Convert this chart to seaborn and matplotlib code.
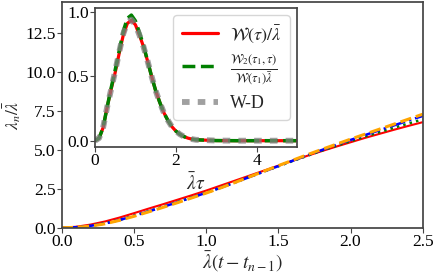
import matplotlib
matplotlib.use("Agg")
import matplotlib.pyplot as plt
import seaborn as sns
import numpy as np
import pandas as pd

# ---- main panel data ----
t_main = [0.0, 0.1, 0.2, 0.3, 0.4, 0.5, 0.6, 0.7, 0.8, 0.9, 1.0, 1.1, 1.2,
          1.3, 1.4, 1.5, 1.6, 1.7, 1.8, 1.9, 2.0, 2.1, 2.2, 2.3, 2.4, 2.5]
red_main = [0.0, 0.06, 0.2, 0.4, 0.65, 0.93, 1.22, 1.5, 1.79, 2.08, 2.38, 2.7, 3.02,
            3.34, 3.66, 3.98, 4.3, 4.61, 4.91, 5.2, 5.48, 5.76, 6.02, 6.28, 6.53, 6.77]
green_main = [0.0, 0.03, 0.12, 0.28, 0.5, 0.77, 1.05, 1.34, 1.64, 1.94, 2.25, 2.57, 2.91,
              3.26, 3.6, 3.94, 4.28, 4.61, 4.94, 5.25, 5.55, 5.85, 6.13, 6.41, 6.68, 6.95]
blue_main = [0.0, 0.03, 0.12, 0.27, 0.49, 0.76, 1.04, 1.33, 1.63, 1.93, 2.24, 2.56, 2.9,
             3.25, 3.6, 3.95, 4.3, 4.64, 4.98, 5.31, 5.63, 5.94, 6.25, 6.56, 6.87, 7.17]
orange_main = [0.0, 0.02, 0.1, 0.25, 0.47, 0.73, 1.01, 1.3, 1.6, 1.91, 2.22, 2.55, 2.9,
               3.26, 3.62, 3.98, 4.33, 4.68, 5.02, 5.35, 5.68, 6.0, 6.32, 6.64, 6.96, 7.28]

# ---- inset data ----
tau = [0.0, 0.1, 0.2, 0.3, 0.4, 0.5, 0.6, 0.7, 0.8, 0.9, 1.0, 1.1, 1.2, 1.3, 1.4,
       1.5, 1.6, 1.7, 1.8, 1.9, 2.0, 2.1, 2.2, 2.3, 2.4, 2.5, 3.0, 3.5, 4.0, 4.5, 5.0]
w_red = [0.0, 0.02, 0.1, 0.26, 0.4, 0.53, 0.68, 0.82, 0.91, 0.935, 0.9, 0.82, 0.73, 0.62, 0.5,
         0.39, 0.3, 0.22, 0.16, 0.11, 0.075, 0.05, 0.032, 0.02, 0.012, 0.007, 0.001, 0.0, 0.0, 0.0, 0.0]
w_green = [0.0, 0.02, 0.1, 0.26, 0.41, 0.55, 0.7, 0.85, 0.95, 0.975, 0.93, 0.84, 0.74, 0.62, 0.5,
           0.39, 0.3, 0.22, 0.16, 0.11, 0.075, 0.05, 0.032, 0.02, 0.012, 0.007, 0.001, 0.0, 0.0, 0.0, 0.0]
w_gray = [0.0, 0.02, 0.1, 0.26, 0.4, 0.54, 0.69, 0.83, 0.92, 0.94, 0.9, 0.82, 0.73, 0.62, 0.5,
          0.39, 0.3, 0.22, 0.16, 0.11, 0.075, 0.05, 0.032, 0.02, 0.012, 0.007, 0.001, 0.0, 0.0, 0.0, 0.0]

legend_labels = [r"$\mathcal{W}(\tau)/\bar{\lambda}$",
                 r"$\frac{\mathcal{W}_2(\tau_1,\tau)}{\mathcal{W}(\tau_1)\bar{\lambda}}$",
                 "W-D"]

sns.set_theme(style="ticks")
plt.rcParams["font.family"] = ["Liberation Serif", "DejaVu Serif"]
plt.rcParams["mathtext.fontset"] = "stix"
plt.rcParams["axes.edgecolor"] = "#444444"
plt.rcParams["xtick.color"] = "#444444"
plt.rcParams["ytick.color"] = "#444444"
plt.rcParams["xtick.labelcolor"] = "black"
plt.rcParams["ytick.labelcolor"] = "black"

fig = plt.figure(figsize=(4.36, 2.77), dpi=100)
ax = fig.add_axes([0.1415, 0.178, 0.828, 0.813])

sns.lineplot(x=t_main, y=red_main, ax=ax, color="red", lw=1.5, linestyle="-")
sns.lineplot(x=t_main, y=green_main, ax=ax, color="green", lw=1.8, linestyle=":")
sns.lineplot(x=t_main, y=blue_main, ax=ax, color="blue", lw=1.8, linestyle="-.")
sns.lineplot(x=t_main, y=orange_main, ax=ax, color="orange", lw=2.2, linestyle="--")

ax.set_xlim(0, 2.5)
ax.set_ylim(0, 14.45)
ax.set_xticks([0.0, 0.5, 1.0, 1.5, 2.0, 2.5])
ax.set_yticks([0.0, 2.5, 5.0, 7.5, 10.0, 12.5])
ax.set_xticklabels(["0.0", "0.5", "1.0", "1.5", "2.0", "2.5"])
ax.set_yticklabels(["0.0", "2.5", "5.0", "7.5", "10.0", "12.5"])
ax.tick_params(labelsize=12.5, length=3.5, width=0.8, pad=1)
ax.set_xlabel(r"$\bar{\lambda}(t-t_{n-1})$", fontsize=14, labelpad=0)
ax.set_ylabel(r"$\lambda_n/\bar{\lambda}$", fontsize=12.5)
ax.yaxis.set_label_coords(-0.108, 0.5)

ins = fig.add_axes([0.2179, 0.4693, 0.4633, 0.5018])
sns.lineplot(x=tau, y=w_red, ax=ins, color="red", lw=2.3, linestyle="-", label=legend_labels[0])
sns.lineplot(x=tau, y=w_green, ax=ins, color="green", lw=2.5, linestyle="--", label=legend_labels[1])
sns.lineplot(x=tau, y=w_gray, ax=ins, color="gray", alpha=0.75, lw=4.2, dashes=(1.3, 1.4),
             label=legend_labels[2])
ins.set_xlim(0, 5)
ins.set_ylim(-0.049, 1.03)
ins.set_xticks([0, 2, 4])
ins.set_yticks([0.0, 0.5, 1.0])
ins.set_yticklabels(["0.0", "0.5", "1.0"])
ins.tick_params(labelsize=12.5, length=3.5, width=0.8, pad=1)
ins.set_xlabel(r"$\bar{\lambda}\tau$", fontsize=14, labelpad=2)
leg = ins.legend(loc="upper right", fontsize=13, handlelength=2.0, handletextpad=0.7,
                 frameon=True, borderpad=0.45, labelspacing=0.45, borderaxespad=0.4)

fig.savefig("out.png", dpi=100)
